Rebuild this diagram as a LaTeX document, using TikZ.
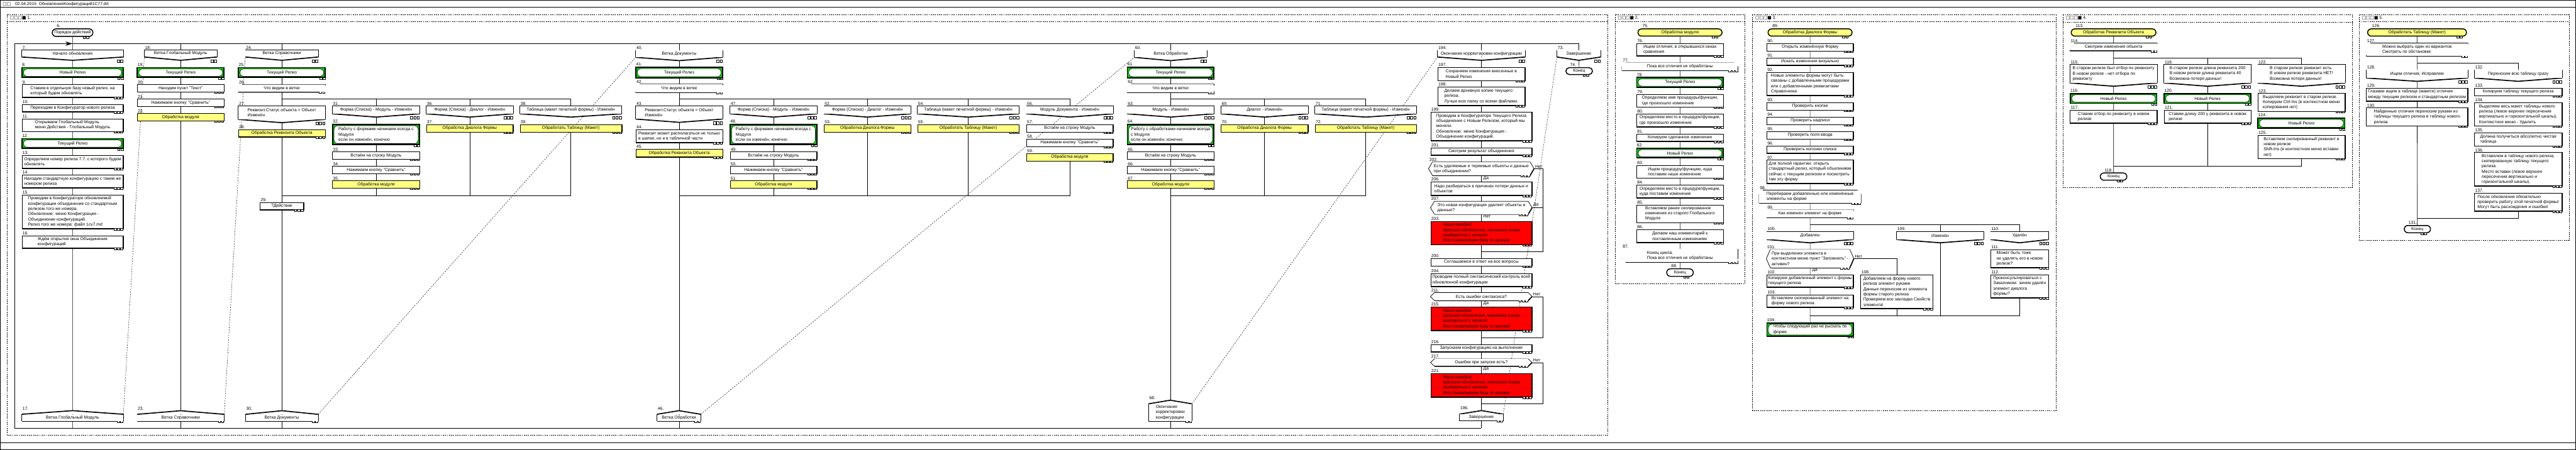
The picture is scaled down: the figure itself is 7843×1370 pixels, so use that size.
\documentclass[tikz,border=0pt]{standalone}
\usepackage{fontspec}
\setmainfont{Liberation Sans}
\newfontfamily\symf{DejaVu Sans}
\usetikzlibrary{arrows.meta,positioning,shapes.misc,backgrounds}
\definecolor{relgreen}{RGB}{0,204,0}
\definecolor{insyellow}{RGB}{255,255,128}
\definecolor{errred}{RGB}{255,0,0}
\newcommand\drk{\fontsize{3.7}{4.55}\selectfont}
\tikzset{
  every node/.style={font=\drk, inner sep=1pt, align=left},
  % size in pixels of the original drawing
  sz/.style 2 args={minimum width=#1*0.01cm, minimum height=#2*0.01cm},
  % number above an icon
  numlbl/.style={anchor=south west, inner sep=0.5pt},
  num/.style={label={[numlbl]north west:#1}},
  anum/.style={label={[numlbl, yshift=0.11cm]north west:#1}},
  qnum/.style={label={[numlbl, xshift=-0.12cm]north west:#1}},
  yn/.style={inner sep=0.5pt},
  % little squares at the corner of an icon
  icsq/.style={line width=0.3pt, fill=white},
  ic/.style={append after command={\pgfextra{\begin{pgfinterruptpath}
    \foreach \k in {1,...,#1}
      \draw[icsq] ([xshift=-\k*0.1cm+0.015cm, yshift=-0.04cm]\tikzlastnode.south east) rectangle ++(0.07cm,0.08cm);
    \end{pgfinterruptpath}}}},
  icb/.style={append after command={\pgfextra{\begin{pgfinterruptpath}
    \foreach \k in {1,...,#1}
      \draw[icsq] ([xshift=-\k*0.1cm+0.015cm, yshift=-0.16cm]\tikzlastnode.south east) rectangle ++(0.07cm,0.08cm);
    \end{pgfinterruptpath}}}},
  % action
  act/.style={draw, fill=white, line width=0.4pt, append after command={\pgfextra{\begin{pgfinterruptpath}
    \draw[line width=0.9pt] (\tikzlastnode.south west) -- (\tikzlastnode.south east) -- (\tikzlastnode.north east);
    \end{pgfinterruptpath}}}},
  err/.style={act, fill=errred},
  % insertion
  ins/.style={act, fill=insyellow, append after command={\pgfextra{\begin{pgfinterruptpath}
    \draw[line width=0.4pt] ([xshift=0.035cm]\tikzlastnode.north west) -- ([xshift=0.035cm]\tikzlastnode.south west);
    \draw[line width=0.4pt] ([xshift=-0.04cm]\tikzlastnode.north east) -- ([xshift=-0.04cm]\tikzlastnode.south east);
    \end{pgfinterruptpath}}}},
  % release marker, green with white shelf
  rel/.style={draw, fill=relgreen, line width=0.9pt, path picture={
    \draw[fill=white, line width=0.3pt, rounded corners=0.1cm]
      ([shift={(0.045cm,-0.04cm)}]path picture bounding box.north west) rectangle
      ([shift={(-0.045cm,0.035cm)}]path picture bounding box.south east);}},
  % start and end
  term/.style={rounded rectangle, draw, fill=white, line width=0.8pt},
  insterm/.style={term, fill=insyellow},
  % branch heading, V bottom
  branch/.style={fill=white, append after command={\pgfextra{\begin{pgfinterruptpath}
    \fill[white] (\tikzlastnode.south west) -- ([yshift=-0.1cm]\tikzlastnode.south) -- (\tikzlastnode.south east) -- cycle;
    \draw[line width=0.4pt] (\tikzlastnode.south west) -- (\tikzlastnode.north west) -- (\tikzlastnode.north east) -- (\tikzlastnode.south east);
    \draw[line width=0.9pt] (\tikzlastnode.south west) -- ([yshift=-0.1cm]\tikzlastnode.south) -- (\tikzlastnode.south east);
    \end{pgfinterruptpath}}}},
  % address, roof on top
  addr/.style={fill=white, append after command={\pgfextra{\begin{pgfinterruptpath}
    \fill[white] (\tikzlastnode.north west) -- ([yshift=0.11cm]\tikzlastnode.north) -- (\tikzlastnode.north east) -- cycle;
    \draw[line width=0.4pt] (\tikzlastnode.north west) -- (\tikzlastnode.south west) (\tikzlastnode.north east) -- (\tikzlastnode.south east);
    \draw[line width=0.9pt] (\tikzlastnode.north west) -- ([yshift=0.11cm]\tikzlastnode.north) -- (\tikzlastnode.north east);
    \draw[line width=0.9pt] (\tikzlastnode.south west) -- (\tikzlastnode.south east);
    \end{pgfinterruptpath}}}},
  % question, pointed ends
  quest/.style={fill=white, append after command={\pgfextra{\begin{pgfinterruptpath}
    \fill[white] (\tikzlastnode.north west) -- ([xshift=-0.12cm]\tikzlastnode.west) -- (\tikzlastnode.south west) -- cycle;
    \fill[white] (\tikzlastnode.north east) -- ([xshift=0.12cm]\tikzlastnode.east) -- (\tikzlastnode.south east) -- cycle;
    \draw[line width=0.4pt] (\tikzlastnode.north west) -- ([xshift=-0.12cm]\tikzlastnode.west) -- (\tikzlastnode.south west)
      (\tikzlastnode.north west) -- (\tikzlastnode.north east) -- ([xshift=0.12cm]\tikzlastnode.east);
    \draw[line width=0.9pt] (\tikzlastnode.south west) -- (\tikzlastnode.south east) -- ([xshift=0.12cm]\tikzlastnode.east);
    \end{pgfinterruptpath}}}},
  % input, parallelogram
  para/.style={fill=white, append after command={\pgfextra{\begin{pgfinterruptpath}
    \draw[line width=0.4pt] ([xshift=0.13cm]\tikzlastnode.north west) -- (\tikzlastnode.north east)
      (\tikzlastnode.south west) -- ([xshift=0.13cm]\tikzlastnode.north west);
    \draw[line width=0.9pt] (\tikzlastnode.south west) -- ([xshift=-0.13cm]\tikzlastnode.south east) -- (\tikzlastnode.north east);
    \end{pgfinterruptpath}}}},
  % loop begin and loop end
  loopbeg/.style={fill=white, append after command={\pgfextra{\begin{pgfinterruptpath}
    \draw[line width=0.4pt] (\tikzlastnode.south west) -- ([yshift=-0.12cm]\tikzlastnode.north west) -- ([xshift=0.12cm]\tikzlastnode.north west)
      -- ([xshift=-0.12cm]\tikzlastnode.north east) -- ([yshift=-0.12cm]\tikzlastnode.north east) -- (\tikzlastnode.south east);
    \draw[line width=0.9pt] (\tikzlastnode.south west) -- (\tikzlastnode.south east);
    \end{pgfinterruptpath}}}},
  loopend/.style={fill=white, append after command={\pgfextra{\begin{pgfinterruptpath}
    \draw[line width=0.4pt] (\tikzlastnode.north west) -- (\tikzlastnode.north east) -- ([yshift=0.12cm]\tikzlastnode.south east)
      (\tikzlastnode.north west) -- ([yshift=0.12cm]\tikzlastnode.south west);
    \draw[line width=0.9pt] ([yshift=0.12cm]\tikzlastnode.south west) -- ([xshift=0.12cm]\tikzlastnode.south west)
      -- ([xshift=-0.12cm]\tikzlastnode.south east) -- ([yshift=0.12cm]\tikzlastnode.south east);
    \end{pgfinterruptpath}}}},
  % lines
  flow/.style={line width=0.35pt},
  link/.style={line width=0.25pt, dash pattern=on 1.2pt off 1pt},
  panel/.style={line width=0.3pt, dash pattern=on 1pt off 0.8pt},
  ttl/.style={anchor=west, inner sep=0.5pt},
}

\begin{document}
\begin{tikzpicture}[x=0.01cm, y=-0.01cm]
  \useasboundingbox (0,0) rectangle (7843,1370);
  % --- window frame ---
  \draw[line width=0.5pt] (1,1) rectangle (7842,1369);
  \draw[line width=0.5pt] (0,22) -- (7843,22);
  \draw[line width=0.5pt] (0,1348) -- (7843,1348);
  \node[ttl] (hdr) at (6,12) {{\symf □□}\quad 02.04.2015\ \ ОбновлениеКонфигураций1С77.drt};

  % --- panels ---
  \draw[panel] (22,44) rectangle (4895,1326);
  \draw[panel] (22,66) -- (4895,66);
  \node[ttl] (p1) at (28,55) {{\symf □□□■} 1.};
  \draw[panel] (4917,45) rectangle (5313,864);
  \draw[panel] (4917,66) -- (5313,66);
  \node[ttl] (p2) at (4923,55) {{\symf □□□■} 2.};
  \draw[panel] (5336,45) rectangle (6259,1250);
  \draw[panel] (5336,66) -- (6259,66);
  \node[ttl] (p3) at (5342,55) {{\symf □□□■} 3.};
  \draw[panel] (6281,45) rectangle (7162,571);
  \draw[panel] (6281,67) -- (7162,67);
  \node[ttl] (p4) at (6287,55) {{\symf □□□■} 4.};
  \draw[panel] (7183,45) rectangle (7822,732);
  \draw[panel] (7183,66) -- (7822,66);
  \node[ttl] (p5) at (7189,55) {{\symf □□□■} 5.};

  % ================= panel 1 =================
  \coordinate (topL) at (45,133);
  \coordinate (botL) at (45,1304);
  % column 1
  \node[term, sz={131}{23}, ic=2, num=6.] (n6) at (221,99.5) {Порядок действий};
  \node[branch, sz={308}{20}, icb=2, num=7.] (n7) at (221,163) {Начало обновления};
  \node[rel, sz={308}{30}, ic=2, num=8.] (n8) at (221,221) {Новый Релиз};
  \node[act, sz={308}{38}, ic=3, num=9.] (n9) at (221,277) {Ставим в отдельную базу новый релиз, на\\который будем обновлять};
  \node[act, sz={308}{22}, ic=3, num=10.] (n10) at (221,329) {Переходим в Конфигуратор нового релиза};
  \node[act, sz={308}{38}, ic=3, num=11.] (n11) at (221,381) {Открываем Глобальный Модуль\\меню Действия - Глобальный Модуль};
  \node[rel, sz={308}{30}, ic=2, num=12.] (n12) at (221,437) {Текущий Релиз};
  \node[act, sz={308}{39}, ic=3, num=13.] (n13) at (221,492.5) {Определяем номер релиза 7.7, с которого будем\\обновлять};
  \node[act, sz={308}{39}, ic=3, num=14.] (n14) at (221,552.5) {Находим стандартную конфигурацию с таким же\\номером релиза};
  \node[act, sz={308}{102}, ic=3, num=15.] (n15) at (221,645) {Проводим в Конфигураторе обновляемой\\конфигурации объединение со стандартным\\релизом того же номера.\\Обновление: меню Конфигурация -\\Объединение конфигураций.\\Релиз того же номера: файл 1cv7.md};
  \node[act, sz={308}{38}, ic=3, num=16.] (n16) at (221,737) {Ждём открытия окна Объединения\\конфигураций};
  \node[addr, sz={308}{19}, ic=2, anum=17.] (n17) at (221,1272.5) {Ветка Глобальный Модуль};
  % column 2
  \node[branch, sz={220}{20}, icb=2, num=18.] (n18) at (550,163) {Ветка Глобальный Модуль};
  \node[rel, sz={264}{30}, ic=2, num=19.] (n19) at (550,221) {Текущий Релиз};
  \node[act, sz={264}{22}, ic=3, num=20.] (n20) at (550,269) {Находим пункт "Текст"};
  \node[act, sz={264}{22}, ic=3, num=21.] (n21) at (550,313) {Нажимаем кнопку "Сравнить"};
  \node[ins, sz={264}{22}, ic=3, num=22.] (n22) at (550,357) {Обработка модуля};
  \node[addr, sz={264}{19}, ic=2, anum=23.] (n23) at (550,1272.5) {Ветка Справочники};
  % column 3
  \node[branch, sz={221}{20}, icb=2, num=24.] (n24) at (858,163) {Ветка Справочники};
  \node[rel, sz={264}{30}, ic=2, num=25.] (n25) at (858,221) {Текущий Релиз};
  \node[para, sz={264}{22}, ic=2, num=26.] (n26) at (858,269) {Что видим в ветке};
  \coordinate (f3) at (858,302);
  \coordinate (m3) at (858,596);
  \node[branch, sz={264}{40}, icb=3, num=27.] (n27) at (858,343) {Реквизит.Статус объекта = Объект\\Изменён};
  \node[ins, sz={264}{22}, ic=3, num=28.] (n28) at (858,406) {Обработка Реквизита Объекта};
  \node[branch, sz={265}{22}, icb=3, num=31.] (n31) at (1145,335) {Форма (Списка) - Модуль - Изменён};
  \node[rel, sz={265}{62}, ic=2, num=32.] (n32) at (1145,410) {Работу с формами начинаем всегда с\\Модуля\\если он изменён, конечно};
  \node[act, sz={265}{22}, ic=3, num=33.] (n33) at (1145,474) {Встаём на строку Модуль};
  \node[act, sz={265}{22}, ic=3, num=34.] (n34) at (1145,518) {Нажимаем кнопку "Сравнить"};
  \node[ins, sz={265}{22}, ic=3, num=35.] (n35) at (1145,562) {Обработка модуля};
  \node[branch, sz={264}{22}, icb=3, num=36.] (n36) at (1430,335) {Форма (Списка) - Диалог - Изменён};
  \node[ins, sz={264}{23}, ic=3, num=37.] (n37) at (1430,390.5) {Обработка Диалога Формы};
  \node[branch, sz={309}{22}, icb=3, num=38.] (n38) at (1738,335) {Таблица (макет печатной формы) - Изменён};
  \node[ins, sz={309}{23}, ic=3, num=39.] (n39) at (1738,390.5) {Обработать Таблицу (Макет)};
  \node[act, sz={132}{22}, ic=3, num=29.] (n29) at (858,628) {?Действие};
  \node[addr, sz={220}{19}, ic=2, anum=30.] (n30) at (858,1272.5) {Ветка Документы};
  % column 4
  \node[branch, sz={264}{20}, icb=2, num=40.] (n40) at (2068,164) {Ветка Документы};
  \node[rel, sz={264}{32}, ic=2, num=41.] (n41) at (2068,221) {Текущий Релиз};
  \node[para, sz={264}{24}, ic=2, num=42.] (n42) at (2068,269) {Что видим в ветке};
  \coordinate (f4) at (2068,302);
  \coordinate (m4) at (2068,596);
  \node[branch, sz={264}{38}, icb=3, num=43.] (n43) at (2068,343) {Реквизит.Статус объекта = Объект\\Изменён};
  \node[act, sz={264}{39}, ic=3, num=44.] (n44) at (2068,414.5) {Реквизит может располагаться не только\\в шапке, но и в табличной части};
  \node[ins, sz={264}{23}, ic=3, num=45.] (n45) at (2068,466.5) {Обработка Реквизита Объекта};
  \node[branch, sz={264}{22}, icb=3, num=47.] (n47) at (2355,335) {Форма (Списка) - Модуль - Изменён};
  \node[rel, sz={264}{62}, ic=2, num=48.] (n48) at (2355,410) {Работу с формами начинаем всегда с\\Модуля\\если он изменён, конечно};
  \node[act, sz={264}{22}, ic=3, num=49.] (n49) at (2355,474) {Встаём на строку Модуль};
  \node[act, sz={264}{22}, ic=3, num=50.] (n50) at (2355,518) {Нажимаем кнопку "Сравнить"};
  \node[ins, sz={264}{22}, ic=3, num=51.] (n51) at (2355,562) {Обработка модуля};
  \node[branch, sz={264}{22}, icb=3, num=52.] (n52) at (2641,335) {Форма (Списка) - Диалог - Изменён};
  \node[ins, sz={264}{23}, ic=3, num=53.] (n53) at (2641,390.5) {Обработка Диалога Формы};
  \node[branch, sz={309}{22}, icb=3, num=54.] (n54) at (2948,335) {Таблица (макет печатной формы) - Изменён};
  \node[ins, sz={309}{23}, ic=3, num=55.] (n55) at (2948,390.5) {Обработать Таблицу (Макет)};
  \node[branch, sz={263}{22}, icb=3, num=56.] (n56) at (3257,335) {Модуль Документа - Изменён};
  \node[act, sz={263}{23}, ic=3, num=57.] (n57) at (3257,390.5) {Встаём на строку Модуль};
  \node[act, sz={263}{23}, ic=3, num=58.] (n58) at (3257,434.5) {Нажимаем кнопку "Сравнить"};
  \node[ins, sz={263}{23}, ic=3, num=59.] (n59) at (3257,478.5) {Обработка модуля};
  \node[addr, sz={132}{19}, ic=2, anum=46.] (n46) at (2067,1272.5) {Ветка Обработки};
  % column 5
  \node[branch, sz={220}{20}, icb=2, num=60.] (n60) at (3564,164) {Ветка Обработки};
  \node[rel, sz={264}{32}, ic=2, num=61.] (n61) at (3564,221) {Текущий Релиз};
  \node[para, sz={264}{24}, ic=2, num=62.] (n62) at (3564,269) {Что видим в ветке};
  \coordinate (f5) at (3564,302);
  \coordinate (m5) at (3564,596);
  \node[branch, sz={264}{22}, icb=3, num=63.] (n63) at (3564,335) {Модуль - Изменён};
  \node[rel, sz={264}{62}, ic=2, num=64.] (n64) at (3564,410) {Работу с обработками начинаем всегда\\с Модуля\\если он изменён, конечно};
  \node[act, sz={264}{22}, ic=3, num=65.] (n65) at (3564,474) {Встаём на строку Модуль};
  \node[act, sz={264}{22}, ic=3, num=66.] (n66) at (3564,518) {Нажимаем кнопку "Сравнить"};
  \node[ins, sz={264}{22}, ic=3, num=67.] (n67) at (3564,562) {Обработка модуля};
  \node[branch, sz={264}{22}, icb=3, num=69.] (n69) at (3850,335) {Диалог - Изменён};
  \node[ins, sz={264}{23}, ic=3, num=70.] (n70) at (3850,390.5) {Обработка Диалога Формы};
  \node[branch, sz={308}{22}, icb=3, num=71.] (n71) at (4158,335) {Таблица (макет печатной формы) - Изменён};
  \node[ins, sz={308}{23}, ic=3, num=72.] (n72) at (4158,390.5) {Обработать Таблицу (Макет)};
  \node[addr, sz={131}{51}, ic=2, anum=68.] (n68) at (3563,1256.5) {Окончание\\корректировки\\конфигурации};
  % column 6
  \node[branch, sz={265}{19}, icb=2, num=194.] (n194) at (4510,163.5) {Окончание корректировки конфигурации};
  \node[act, sz={265}{39}, ic=3, num=197.] (n197) at (4510,225.5) {Сохраняем изменения внесенные в\\Новый Релиз};
  \node[act, sz={265}{56}, ic=3, num=198.] (n198) at (4510,293) {Делаем архивную копию текущего\\релиза.\\Лучше всю папку со всеми файлами.};
  \node[act, sz={308}{86}, ic=3, num=199.] (n199) at (4510,385) {Проводим в Конфигураторе Текущего Релиза\\объединение с Новым Релизом, который мы\\меняли.\\Обновление: меню Конфигурация -\\Объединение конфигураций.};
  \node[act, sz={308}{22}, ic=3, num=201.] (n201) at (4510,461) {Смотрим результат объединения};
  \node[quest, sz={284}{40}, ic=3, qnum=202.] (n202) at (4510,514) {Есть удаляемые и теряемые объекты и данные\\при объединении?};
  \node[act, sz={308}{41}, ic=3, num=206.] (n206) at (4510,574.5) {Надо разбираться в причинах потери данных и\\объектов};
  \node[quest, sz={284}{38}, ic=3, qnum=207.] (n207) at (4510,633) {Это новая конфигурация удаляет объекты и\\данные?};
  \node[err, sz={308}{71}, ic=3, num=203.] (n203) at (4510,709.5) {Наша ошибка!\\Бросаем обновление, начинаем снова\\разбираться с начала!\\Восстанавливаем базу из архива!};
  \node[act, sz={308}{22}, ic=3, num=200.] (n200) at (4510,799) {Соглашаемся в ответ на все вопросы};
  \node[act, sz={308}{39}, ic=3, num=204.] (n204) at (4510,852.5) {Проводим полный синтаксический контроль всей\\обновленной конфигурации};
  \node[quest, sz={284}{23}, ic=3, qnum=211.] (n211) at (4510,903.5) {Есть ошибки синтаксиса?};
  \node[err, sz={308}{71}, ic=3, num=215.] (n215) at (4510,970.5) {Наша ошибка!\\Бросаем обновление, начинаем снова\\разбираться с начала!\\Восстанавливаем базу из архива!};
  \node[act, sz={308}{21}, ic=3, num=216.] (n216) at (4510,1060.5) {Запускаем конфигурацию на выполнение};
  \node[quest, sz={284}{21}, ic=3, qnum=217.] (n217) at (4510,1104.5) {Ошибки при запуске есть?};
  \node[err, sz={308}{71}, ic=3, num=221.] (n221) at (4510,1173.5) {Наша ошибка!\\Бросаем обновление, начинаем снова\\разбираться с начала!\\Восстанавливаем базу из архива!};
  \node[addr, sz={132}{18}, ic=2, anum=196.] (n196) at (4510,1272) {Завершение};
  \node[yn, anchor=south west] (y202) at ([xshift=0.13cm]n202.east) {Нет};
  \node[yn, anchor=north west] (d202) at ([xshift=0.04cm]n202.south) {Да};
  \node[yn, anchor=south west] (y207) at ([xshift=0.13cm]n207.east) {Да};
  \node[yn, anchor=north west] (d207) at ([xshift=0.04cm]n207.south) {Нет};
  \node[yn, anchor=south west] (y211) at ([xshift=0.13cm]n211.east) {Нет};
  \node[yn, anchor=north west] (d211) at ([xshift=0.04cm]n211.south) {Да};
  \node[yn, anchor=south west] (y217) at ([xshift=0.13cm]n217.east) {Нет};
  \node[yn, anchor=north west] (d217) at ([xshift=0.04cm]n217.south) {Да};
  \coordinate (r1) at (4698,766);
  \coordinate (j1) at (4510,766);
  \coordinate (r2) at (4698,1029);
  \coordinate (j2) at (4510,1029);
  \coordinate (r3) at (4698,1230);
  \coordinate (j3) at (4510,1230);
  % column 7
  \node[branch, sz={132}{19}, icb=2, num=73.] (n73) at (4807,163.5) {Завершение};
  \node[term, sz={88}{21}, ic=2, num=74.] (n74) at (4808,216.5) {Конец};

  % ================= panel 2 =================
  \node[insterm, sz={263}{22}, ic=2, num=75.] (n75) at (5115,99) {Обработка модуля};
  \node[act, sz={264}{38}, ic=3, num=76.] (n76) at (5115,151) {Ищем отличия, в открывшихся окнах\\сравнения};
  \node[loopbeg, sz={352}{22}, ic=3, num=77.] (n77) at (5115,203) {Пока все отличия не обработаны};
  \node[rel, sz={264}{30}, ic=2, num=78.] (n78) at (5115,251) {Текущий Релиз};
  \node[act, sz={264}{39}, ic=3, num=79.] (n79) at (5115,306.5) {Определяем имя процедуры/функции,\\где произошло изменение};
  \node[act, sz={264}{39}, ic=3, num=80.] (n80) at (5115,366.5) {Определяем место в прцедуре/функции,\\где произошло изменение};
  \node[act, sz={264}{22}, ic=3, num=81.] (n81) at (5115,419) {Копируем сделанное изменение};
  \node[rel, sz={264}{29}, ic=2, num=82.] (n82) at (5115,466.5) {Новый Релиз};
  \node[act, sz={264}{38}, ic=3, num=83.] (n83) at (5115,523) {Ищем процедуру/функцию, куда\\поставим наше изменение};
  \node[act, sz={264}{38}, ic=3, num=84.] (n84) at (5115,583) {Определяем место в прцедуре/функции,\\куда поставим изменение};
  \node[act, sz={264}{54}, ic=3, num=85.] (n85) at (5115,651) {Вставляем ранее скопированное\\изменение из старого Глобального\\Модуля};
  \node[act, sz={264}{38}, ic=3, num=86.] (n86) at (5115,719) {Делаем наш комментарий к\\поставленным изменениям};
  \node[loopend, sz={352}{39}, ic=3, num=87.] (n87) at (5115,778.5) {Конец цикла.\\Пока все отличия не обработаны};
  \node[term, sz={88}{23}, ic=2, num=88.] (n88) at (5115,830.5) {Конец};

  % ================= panel 3 =================
  \node[insterm, sz={263}{22}, ic=2, num=89.] (n89) at (5511,99) {Обработка Диалога Формы};
  \node[act, sz={263}{23}, ic=3, num=90.] (n90) at (5511,143.5) {Открыть изменённую Форму};
  \node[act, sz={263}{22}, ic=3, num=91.] (n91) at (5511,187) {Искать изменения визуально};
  \node[act, sz={263}{70}, ic=3, num=92.] (n92) at (5511,255) {Новые элементы формы могут быть\\связаны с добавленными процедурами\\или с добавленными реквизитами\\Справочника};
  \node[act, sz={263}{23}, ic=3, num=93.] (n93) at (5511,323.5) {Проверить кнопки};
  \node[act, sz={263}{23}, ic=3, num=94.] (n94) at (5511,367.5) {Проверить надписи};
  \node[act, sz={263}{23}, ic=3, num=95.] (n95) at (5511,411.5) {Проверить поля ввода};
  \node[act, sz={263}{22}, ic=3, num=96.] (n96) at (5511,455) {Проверить колонки списка};
  \node[act, sz={263}{70}, ic=3, num=97.] (n97) at (5511,523) {Для полной гарантии: открыть\\стандартный релиз, который объелиняем\\сейчас с текущим релизом и посмотреть\\там эту форму};
  \node[loopbeg, sz={309}{38}, ic=3, num=98.] (n98) at (5511,599) {Перебираем добавленные или изменённые\\элементы на форме};
  \node[para, sz={263}{22}, ic=2, num=99.] (n99) at (5511,651) {Как изменен элемент на форме};
  \coordinate (f6) at (5511,684);
  \coordinate (m6) at (5511,962);
  \node[branch, sz={263}{23}, icb=3, num=100.] (n100) at (5511,717.5) {Добавлен};
  \node[quest, sz={241}{54}, ic=3, qnum=101.] (n101) at (5511,788) {При выделении элемента в\\контекстном меню пункт "Запомнить" -\\активен?};
  \node[act, sz={263}{37}, ic=3, num=102.] (n102) at (5511,855.5) {Копируем добавленный элемент с формы\\текущего релиза};
  \node[act, sz={263}{38}, ic=3, num=103.] (n103) at (5511,917) {Вставляем скопированный элемент на\\форму нового релиза};
  \node[act, sz={219}{102}, ic=3, num=108.] (n108) at (5775,888) {Добавляем на форму нового\\релиза элемент руками\\Данные переносим из элемента\\формы старого релиза\\Проверяем все закладки Свойств\\элемента!};
  \node[yn, anchor=south west] (y101) at ([xshift=0.13cm]n101.east) {Нет};
  \node[yn, anchor=north west] (d101) at ([xshift=0.04cm]n101.south) {Да};
  \node[branch, sz={264}{23}, icb=3, num=109.] (n109) at (5907,717.5) {Изменён};
  \node[branch, sz={176}{23}, icb=3, num=110.] (n110) at (6149,717.5) {Удалён};
  \node[act, sz={176}{54}, ic=3, num=111.] (n111) at (6149,788) {Может быть тоже\\не удалять его в новом\\релизе?};
  \node[act, sz={176}{70}, ic=3, num=112.] (n112) at (6149,872) {Проконсультироваться с\\Заказчиком: зачем удалён\\элемент диалога\\формы?};
  \node[rel, sz={263}{40}, ic=2, num=104.] (n104) at (5511,1004) {Чтобы следующий раз не рыскать по\\форме};

  % ================= panel 4 =================
  \node[insterm, sz={265}{22}, ic=2, num=113.] (n113) at (6435,99) {Обработка Реквизита Объекта};
  \node[para, sz={264}{22}, ic=2, num=114.] (n114) at (6435,143) {Смотрим изменения объекта};
  \coordinate (f7) at (6435,176);
  \coordinate (m7) at (6435,506);
  \node[branch, sz={264}{55}, icb=3, num=115.] (n115) at (6435,224.5) {В старом релизе был отбор по реквизиту\\В новом релизе - нет отбора по\\реквизиту};
  \node[rel, sz={264}{30}, ic=2, num=116.] (n116) at (6435,300) {Новый Релиз};
  \node[act, sz={264}{39}, ic=3, num=117.] (n117) at (6435,355.5) {Ставим отбор по реквизиту в новом\\релизе};
  \node[branch, sz={264}{55}, icb=3, num=119.] (n119) at (6721,224.5) {В старом релизе длина реквизита 200\\В новом релизе длина реквизита 40\\Возможна потеря данных!};
  \node[rel, sz={264}{30}, ic=2, num=120.] (n120) at (6721,300) {Новый Релиз};
  \node[act, sz={264}{39}, ic=3, num=121.] (n121) at (6721,355.5) {Ставим длину 200 у реквизита в новом\\релизе};
  \node[branch, sz={265}{55}, icb=3, num=122.] (n122) at (7007,224.5) {В старом релизе реквизит есть\\В новом релизе реквизита НЕТ!\\Возможна потеря данных!};
  \node[act, sz={265}{54}, ic=3, num=123.] (n123) at (7007,312) {Выделяем реквизит в старом релизе.\\Копируем Ctrl-Ins (в контекстном меню\\копирования нет)};
  \node[rel, sz={265}{31}, ic=2, num=124.] (n124) at (7007,375.5) {Новый Релиз};
  \node[act, sz={265}{70}, ic=3, num=125.] (n125) at (7007,448) {Вставляем скопированный реквизит в\\новом релизе\\Shift-Ins (в контекстном меню вставки\\нет)};
  \node[term, sz={88}{22}, ic=2, num=118.] (n118) at (6435,538) {Конец};

  % ================= panel 5 =================
  \node[insterm, sz={308}{22}, ic=2, num=126.] (n126) at (7359,99) {Обработать Таблицу (Макет)};
  \node[para, sz={308}{38}, ic=2, num=127.] (n127) at (7359,151) {Можно выбрать один из вариантов\\Смотреть по обстановке};
  \coordinate (f8) at (7360,192);
  \coordinate (m8) at (7360,666);
  \node[branch, sz={308}{24}, icb=3, num=128.] (n128) at (7359,225) {Ищем отличия, Исправлем};
  \node[act, sz={308}{39}, ic=3, num=129.] (n129) at (7359,287.5) {Глазами ищем в таблице (макете) отличия\\между текущим релизом и стандартным релизом};
  \node[act, sz={308}{54}, ic=3, num=130.] (n130) at (7359,356) {Найденные отличия переносим руками из\\таблицы текущего релиза в таблицу нового\\релиза};
  \node[branch, sz={266}{24}, icb=3, num=132.] (n132) at (7667,225) {Переносим всю таблицу сразу};
  \node[act, sz={266}{23}, ic=3, num=133.] (n133) at (7667,279.5) {Копируем таблицу текущего релиза};
  \node[act, sz={266}{70}, ic=3, num=134.] (n134) at (7667,348) {Выделяем весь макет таблицы нового\\релиза (левое верхнее пересечения\\вертикально и горизонтальной шкалы).\\Контекстное меню - Удалить};
  \node[act, sz={266}{39}, ic=3, num=135.] (n135) at (7667,424.5) {Должна получиться абсолютно чистая\\таблица};
  \node[act, sz={266}{101}, ic=3, num=136.] (n136) at (7667,515.5) {Вставялем в таблицу нового релиза,\\скопированную таблицу текущего\\релиза.\\Место вставки (левое верхнее\\пересечения вертикально и\\горизонтальной шкалы).};
  \node[act, sz={266}{54}, ic=3, num=137.] (n137) at (7667,616) {После обновления обязательно\\проверить работу этой печатной формы!\\Могут быть расхождения и ошибки!};
  \node[term, sz={87}{22}, ic=2, num=131.] (n131) at (7360,698) {Конец};

  % ================= connectors =================
  \begin{scope}[on background layer]
    % links from addresses to branch headings
    \draw[link] (n17.north east) -- (n18.south west);
    \draw[link] (n23.north east) -- (n24.south west);
    \draw[link] (n30.north east) -- (n40.south west);
    \draw[link] (n46.north east) -- (n60.south west);
    \draw[link] (n68.north east) -- (n194.south west);
    \draw[link] (n196.north east) -- (n73.south west);
    % silhouette
    \draw[flow, -{Stealth[length=0.22cm, width=0.13cm]}] (topL) -- (n7 |- topL);
    \draw[flow] (n7 |- topL) -- (n73 |- topL) -- (n73) -- (n74);
    \draw[flow] (topL) -- (botL) -- (n194 |- botL);
    \draw[flow] (n6) -- (n7 |- botL);
    \draw[flow] (n18 |- topL) -- (n18 |- botL);
    \draw[flow] (n24 |- topL) -- (n24 |- botL);
    \draw[flow] (n40 |- topL) -- (n40 |- botL);
    \draw[flow] (n60 |- topL) -- (n60 |- botL);
    \draw[flow] (n194 |- topL) -- (n194 |- botL);
    % choices
    \draw[flow] (f3) -| (n38);
    \draw[flow] (m3) -| (n39);
    \draw[flow] (n31 |- f3) -- (n31 |- m3);
    \draw[flow] (n36 |- f3) -- (n36 |- m3);
    \draw[flow] (f4) -| (n56);
    \draw[flow] (m4) -| (n59);
    \draw[flow] (n47 |- f4) -- (n47 |- m4);
    \draw[flow] (n52 |- f4) -- (n52 |- m4);
    \draw[flow] (n54 |- f4) -- (n54 |- m4);
    \draw[flow] (f5) -| (n71);
    \draw[flow] (m5) -| (n72);
    \draw[flow] (n69 |- f5) -- (n69 |- m5);
    % questions of column 6
    \draw[flow] (n202) -| (r1) -- (j1);
    \draw[flow] (n207) -- (n207 -| r1);
    \draw[flow] (n211) -| (r2) -- (j2);
    \draw[flow] (n217) -| (r3) -- (j3);
    % panel 2
    \draw[flow] (n75) -- (n88);
    % panel 3
    \draw[flow] (n89) -- (n104);
    \draw[flow] (f6) -| (n110);
    \draw[flow] (m6) -| (n112);
    \draw[flow] (n109 |- f6) -- (n109 |- m6);
    \draw[flow] (n101) -| (n108);
    \draw[flow] (n108) -- (n108 |- m6);
    % panel 4
    \draw[flow] (n113) -- (n118);
    \draw[flow] (f7) -| (n122);
    \draw[flow] (m7) -| (n125);
    \draw[flow] (n119 |- f7) -- (n119 |- m7);
    % panel 5
    \draw[flow] (n126) -- (n131);
    \draw[flow] (f8) -| (n132);
    \draw[flow] (m8) -| (n137);
  \end{scope}
\end{tikzpicture}
\end{document}
